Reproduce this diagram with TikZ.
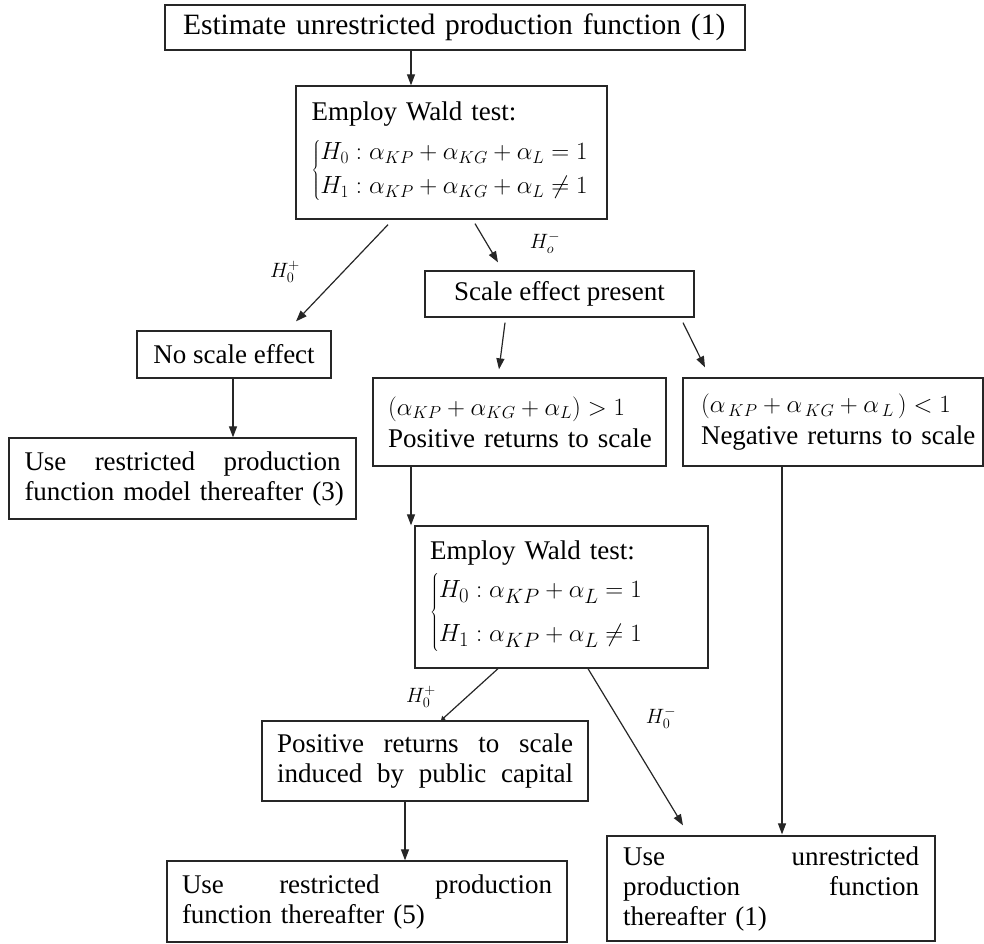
\documentclass[tikz,border=0pt]{standalone}
\usepackage{fontspec}
\setmainfont{Liberation Serif}
\usetikzlibrary{arrows.meta}
\newcommand\bodyfs{\fontsize{27}{30}\selectfont}
\newcommand\bigfs{\fontsize{29.5}{32}\selectfont}
\begin{document}
\begin{tikzpicture}[x=1pt,y=-1pt,
  box/.style={draw=black!85, line width=1.3pt, inner sep=0pt, font=\bodyfs},
  arr/.style={line width=1.2pt, black!85, -{Triangle[length=11pt,width=8pt]}},
  plain/.style={line width=1.2pt, black!85},
  lab/.style={inner sep=0pt, font=\fontsize{22}{24}\selectfont}]
\useasboundingbox (0,0) rectangle (984,943);

% boxes
\node[box, font=\bigfs, minimum width=580pt, minimum height=45pt, text width=544pt, align=left] (top) at (455,27.5)
  {Estimate unrestricted production function (1)};
\node[box, minimum width=311pt, minimum height=133pt, text width=280pt, align=left] (wald1) at (451.5,152.5)
  {Employ Wald test:\\[11pt]
   $\left\{\begin{array}{@{}l@{}}
     H_0:\alpha_{KP}+\alpha_{KG}+\alpha_L=1\\[4pt]
     H_1:\alpha_{KP}+\alpha_{KG}+\alpha_L\neq1
   \end{array}\right.$};
\node[box, minimum width=269pt, minimum height=46pt] (scale) at (559.5,294) {Scale effect present};
\node[box, minimum width=194pt, minimum height=47pt] (noscale) at (234,354.5) {No scale effect};
\node[box, minimum width=293pt, minimum height=88pt, text width=263pt, align=left] (pos) at (519.5,422)
  {\mbox{$(\alpha_{KP}+\alpha_{KG}+\alpha_L)>1$}\\[2pt] \mbox{Positive returns to scale}};
\node[box, minimum width=300pt, minimum height=88pt, text width=264pt, align=left] (neg) at (833,422)
  {\mbox{$(\alpha_{\,KP}+\alpha_{\,KG}+\alpha_{\,L}\,)<1$}\\[2pt] \mbox{Negative returns to scale}};
\node[box, minimum width=347pt, minimum height=81pt, text width=316pt, align=left] (use3) at (182.5,478.5)
  {Use\hfill restricted\hfill production\\ \mbox{function model thereafter (3)}};
\node[box, minimum width=293pt, minimum height=142pt, text width=263pt, align=left] (wald2) at (561.5,597)
  {Employ Wald test:\\[6pt]
   {\fontsize{32}{36}\selectfont
   $\left\{\begin{array}{@{}l@{}}
     H_0:\alpha_{KP}+\alpha_L=1\\[8pt]
     H_1:\alpha_{KP}+\alpha_L\neq1
   \end{array}\right.$}};
\node[box, minimum width=326pt, minimum height=80pt, text width=296pt, align=left] (posind) at (425,761)
  {Positive\hfill returns\hfill to\hfill scale\\ induced\hfill by\hfill public\hfill capital};
\node[box, minimum width=400pt, minimum height=81pt, text width=370pt, align=left] (use5) at (367,901.5)
  {Use\hfill restricted\hfill production\\ \mbox{function thereafter (5)}};
\node[box, minimum width=328pt, minimum height=105pt, text width=296pt, align=left] (use1) at (771,888.5)
  {Use\hfill unrestricted\\ production\hfill function\\ \mbox{thereafter (1)}};

% connectors
\draw[arr] ([xshift=-44pt]top.south) -- ([xshift=-40.5pt]wald1.north);
\draw[arr] ([xshift=-63.5pt,yshift=-5pt]wald1.south) -- ([xshift=62pt,yshift=9pt]noscale.north);
\draw[arr] ([xshift=23.5pt,yshift=-4pt]wald1.south) -- ([xshift=-61.5pt,yshift=8pt]scale.north);
\draw[arr] ([xshift=-54.5pt,yshift=-5pt]scale.south) -- ([xshift=-20.5pt,yshift=8pt]pos.north);
\draw[arr] ([xshift=123.5pt,yshift=-5pt]scale.south) -- ([xshift=-128pt,yshift=10pt]neg.north);
\draw[arr] ([xshift=-1pt]noscale.south) -- ([xshift=50.5pt]use3.north);
\draw[arr] ([xshift=-108.5pt]pos.south) -- ([xshift=-150.5pt]wald2.north);
\draw[plain, -{Triangle[length=4pt,width=5pt]}] ([xshift=-63.5pt]wald2.south) -- ([xshift=16pt]posind.north);
\draw[arr] ([xshift=26.5pt]wald2.south) -- ([xshift=-88pt,yshift=10pt]use1.north);
\draw[arr] ([xshift=-51pt]neg.south) -- ([xshift=11pt,yshift=1pt]use1.north);
\draw[arr] ([xshift=-20pt]posind.south) -- ([xshift=38pt]use5.north);

% labels
\node[lab] (l1) at (285,272) {$H_0^+$};
\node[lab] (l2) at (545,243) {$H_o^-$};
\node[lab] (l3) at (421,697) {$H_0^+$};
\node[lab] (l4) at (661,718) {$H_0^-$};
\end{tikzpicture}
\end{document}
